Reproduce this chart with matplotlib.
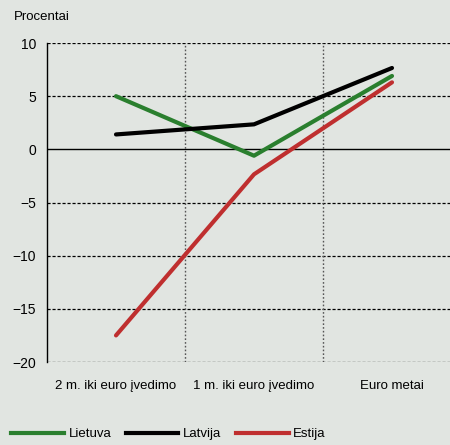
import matplotlib
matplotlib.use("Agg")
import matplotlib.pyplot as plt
from matplotlib.lines import Line2D

categories = ["2 m. iki euro įvedimo", "1 m. iki euro įvedimo", "Euro metai"]
lietuva = [5.0, -0.6, 6.9]
latvija = [1.4, 2.35, 7.65]
estija = [-17.5, -2.35, 6.3]
yticks = [10, 5, 0, -5, -10, -15, -20]
ytick_labels = ["10", "5", "0", "\u22125", "\u221210", "\u221215", "\u221220"]

bg = "#e1e5e1"
green = "#2a7f2e"
black = "#000000"
red = "#bf2f2f"

plt.rcParams["font.family"] = ["Liberation Sans", "DejaVu Sans"]

fig = plt.figure(figsize=(4.5, 4.45), dpi=100, facecolor=bg)
ax = fig.add_axes([47 / 450, 83 / 445, 414 / 450, 319 / 445], facecolor=bg)

x = list(range(len(categories)))
ax.set_xlim(-0.5, 2.5)
ax.set_ylim(-20, 10)

# dashed horizontal grid, solid zero line
for yv in yticks:
    if yv == 0:
        ax.axhline(yv, color="black", lw=1.0, zorder=1)
    else:
        ax.axhline(yv, color="black", lw=0.9, ls=(0, (2.5, 1.5)), zorder=1)
# dotted separators between categories
for xv in [0.5, 1.5]:
    ax.axvline(xv, color="#555555", lw=1.0, ls=(0, (1.2, 1.5)), zorder=1)

ax.plot(x, lietuva, color=green, lw=3, solid_capstyle="round", zorder=3)
ax.plot(x, latvija, color=black, lw=3, solid_capstyle="round", zorder=3)
ax.plot(x, estija, color=red, lw=3, solid_capstyle="round", zorder=3)

for s in ["top", "right", "bottom"]:
    ax.spines[s].set_visible(False)
ax.spines["left"].set_color("black")
ax.spines["left"].set_linewidth(1.0)

fs = 9.5
ax.set_yticks(yticks)
ax.set_yticklabels(ytick_labels, fontsize=fs + 0.5)
ax.set_xticks(x)
ax.set_xticklabels(categories, fontsize=fs)
ax.tick_params(axis="both", length=0, pad=8)
ax.tick_params(axis="x", pad=13)

fig.text(14 / 450, 1 - 17 / 445, "Procentai", fontsize=fs, va="center", ha="left")

handles = [Line2D([], [], color=green, lw=3),
           Line2D([], [], color=black, lw=3),
           Line2D([], [], color=red, lw=3)]
fig.legend(handles, ["Lietuva", "Latvija", "Estija"], loc="center left",
           bbox_to_anchor=(11 / 450, 1 - 434 / 445), ncol=3, frameon=False,
           fontsize=fs, handlelength=4.0, handletextpad=0.35, columnspacing=1.1,
           borderaxespad=0, borderpad=0)

fig.savefig("out.png", dpi=100, facecolor=bg)
